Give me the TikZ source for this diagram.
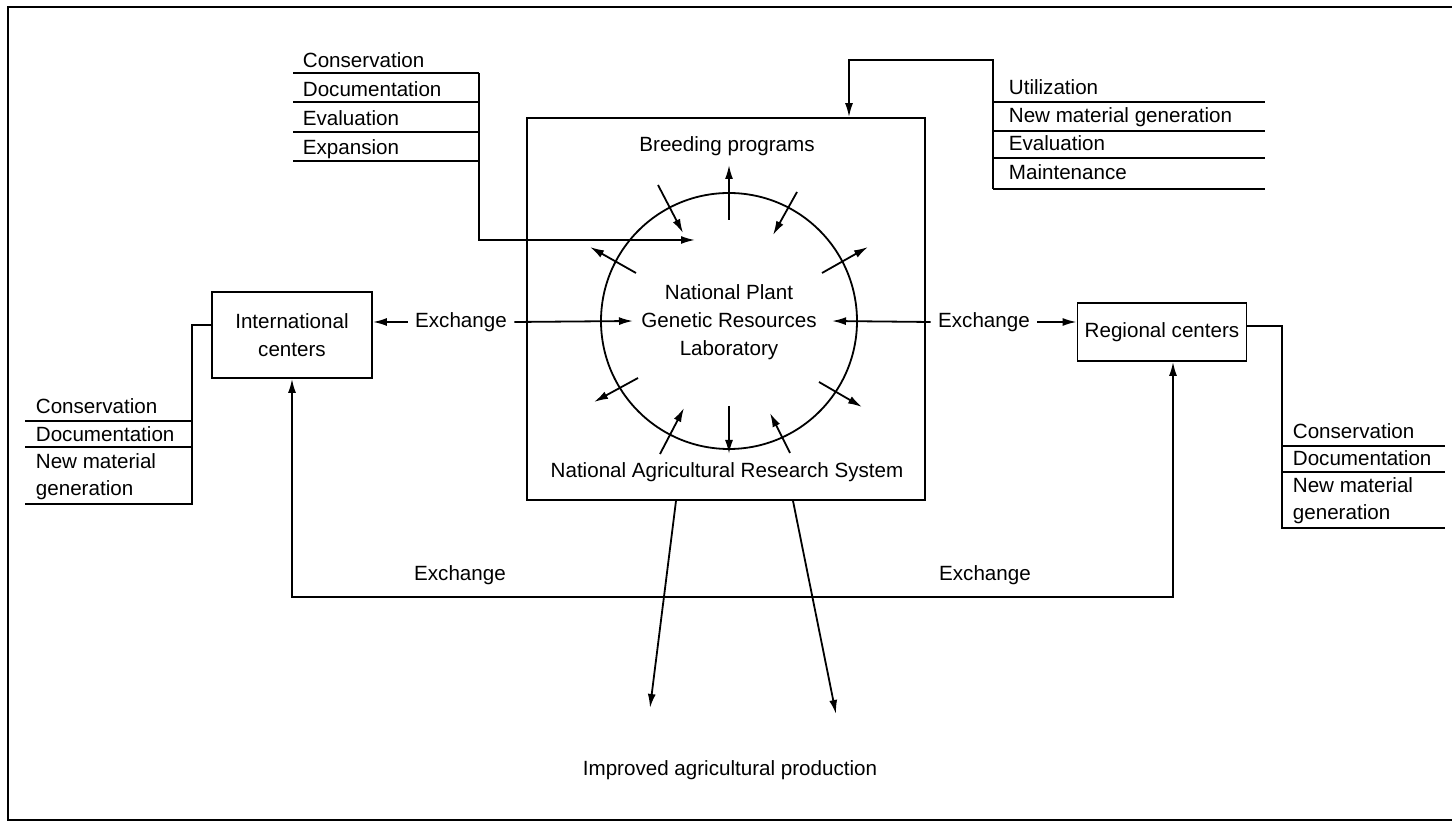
\documentclass[tikz,border=0pt]{standalone}
\usepackage{fontspec}
\setmainfont{Liberation Sans}
\usetikzlibrary{arrows.meta,calc}
\begin{document}
\begin{tikzpicture}[x=0.5pt,y=-0.5pt,
  line width=0.9pt,
  every node/.style={font=\fontsize{10.3}{14}\selectfont},
  item/.style={inner sep=0pt, anchor=base west},
  box/.style={draw, align=center, inner sep=2pt},
  arr/.style={-{Latex[length=7pt,width=4pt]}},
  dblarr/.style={{Latex[length=7pt,width=4pt]}-{Latex[length=7pt,width=4pt]}}
]
\useasboundingbox (0,0) rectangle (1452,822);

% outer frame
\draw (1452,7) -- (8,7) -- (8,820) -- (1452,820);

% central laboratory inside the national system
\node[draw, minimum width=199pt, minimum height=191pt, inner sep=0pt] (main) at (726,309) {};
\node[circle, draw, minimum size=128pt, inner sep=0pt] (lab) at (729,321) {};
\node[align=center] (labtext) at (729,322) {National Plant\\Genetic Resources\\Laboratory};
\node (breed) at (727,146) {Breeding programs};
\node (nars) at (727,472) {National Agricultural Research System};

% spokes through the circle
\draw[arr] ($(lab.center)+(0,-101)$) -- ($(lab.center)+(0,-156)$);
\draw[arr] ($(lab.center)+(-71,-136)$) -- ($(lab.center)+(-46,-88)$);
\draw[arr] ($(lab.center)+(68,-129)$) -- ($(lab.center)+(44,-86)$);
\draw[arr] ($(lab.center)+(-93,-48)$) -- ($(lab.center)+(-139,-74)$);
\draw[arr] ($(lab.center)+(93,-48)$) -- ($(lab.center)+(139,-74)$);
\draw[arr] ($(lab.center)+(-91,57)$) -- ($(lab.center)+(-135,81)$);
\draw[arr] ($(lab.center)+(90,61)$) -- ($(lab.center)+(133,86)$);
\draw[arr] ($(lab.center)+(-69,133)$) -- ($(lab.center)+(-45,87)$);
\draw[arr] ($(lab.center)+(0,85)$) -- ($(lab.center)+(0,133)$);
\draw[arr] ($(lab.center)+(61,132)$) -- ($(lab.center)+(41,92)$);

% activity list feeding the laboratory
\node[item] (tl1) at (302,68) {Conservation};
\node[item] (tl2) at (302,97) {Documentation};
\node[item] (tl3) at (302,126) {Evaluation};
\node[item] (tl4) at (302,155) {Expansion};
\coordinate (tlR) at (479,73);
\draw (293,73) -- (tlR);
\draw (293,102) -- (479,102);
\draw (293,132) -- (479,132);
\draw (293,161) -- (479,161);
\draw[arr] (tlR) |- ($(lab.center)+(-34,-81)$);

% activity list returning to the national system
\node[item] (tr1) at (1008,95) {Utilization};
\node[item] (tr2) at (1008,123) {New material generation};
\node[item] (tr3) at (1008,151) {Evaluation};
\node[item] (tr4) at (1008,180) {Maintenance};
\coordinate (trL) at (993,189);
\coordinate (trTop) at (849,60);
\draw (993,102) -- (1265,102);
\draw (993,131) -- (1265,131);
\draw (993,158) -- (1265,158);
\draw (trL) -- (1265,189);
\draw[arr] (trL) |- (trTop) -- (trTop |- main.north);

% international centers
\node[box, minimum width=80pt, minimum height=43pt] (intl) at (292,335) {International\\centers};
\coordinate (ilist) at (192,504);
\draw ([yshift=5pt]intl.west) -| (ilist) -- (25,504);
\draw (25,421) -- (192,421);
\draw (25,447) -- (192,447);
\node[item] (il1) at (35,414) {Conservation};
\node[item] (il2) at (35,442) {Documentation};
\node[item] (il3) at (35,469) {New material};
\node[item] (il4) at (35,496) {generation};

% regional centers
\node[box, minimum width=84.5pt, minimum height=29pt] (reg) at (1162,332) {Regional centers};
\coordinate (rlist) at (1282,528);
\draw ([yshift=3pt]reg.east) -| (rlist) -- (1445,528);
\draw (1282,446) -- (1445,446);
\draw (1282,472) -- (1445,472);
\node[item] (rl1) at (1292,439) {Conservation};
\node[item] (rl2) at (1292,466) {Documentation};
\node[item] (rl3) at (1292,493) {New material};
\node[item] (rl4) at (1292,520) {generation};

% exchange with the laboratory
\node (exL) at (461,322) {Exchange};
\draw[arr] (exL.west) -- (exL.west -| intl.east);
\draw[arr] (exL.east) -- ($(lab.center)+(-96,0)$);
\node (exR) at (984,322) {Exchange};
\draw[arr] (exR.west) -- ($(lab.center)+(103,0)$);
\draw[arr] (exR.east) -- (exR.east -| reg.west);

% exchange between international and regional centers
\coordinate (lpL) at (292,597);
\coordinate (lpR) at (1173,597);
\draw[dblarr] (intl.south) -- (lpL) -- (lpR) -- (lpR |- reg.south);
\node (exBL) at (460,575) {Exchange};
\node (exBR) at (985,575) {Exchange};

% outcome
\node (imp) at (730,770) {Improved agricultural production};
\coordinate (bL) at (676,0);
\coordinate (bR) at (793,0);
\coordinate (impL) at (650,708);
\coordinate (impR) at (836,714);
\draw[arr] (main.south -| bL) -- (impL);
\draw[arr] (main.south -| bR) -- (impR);
\end{tikzpicture}
\end{document}
